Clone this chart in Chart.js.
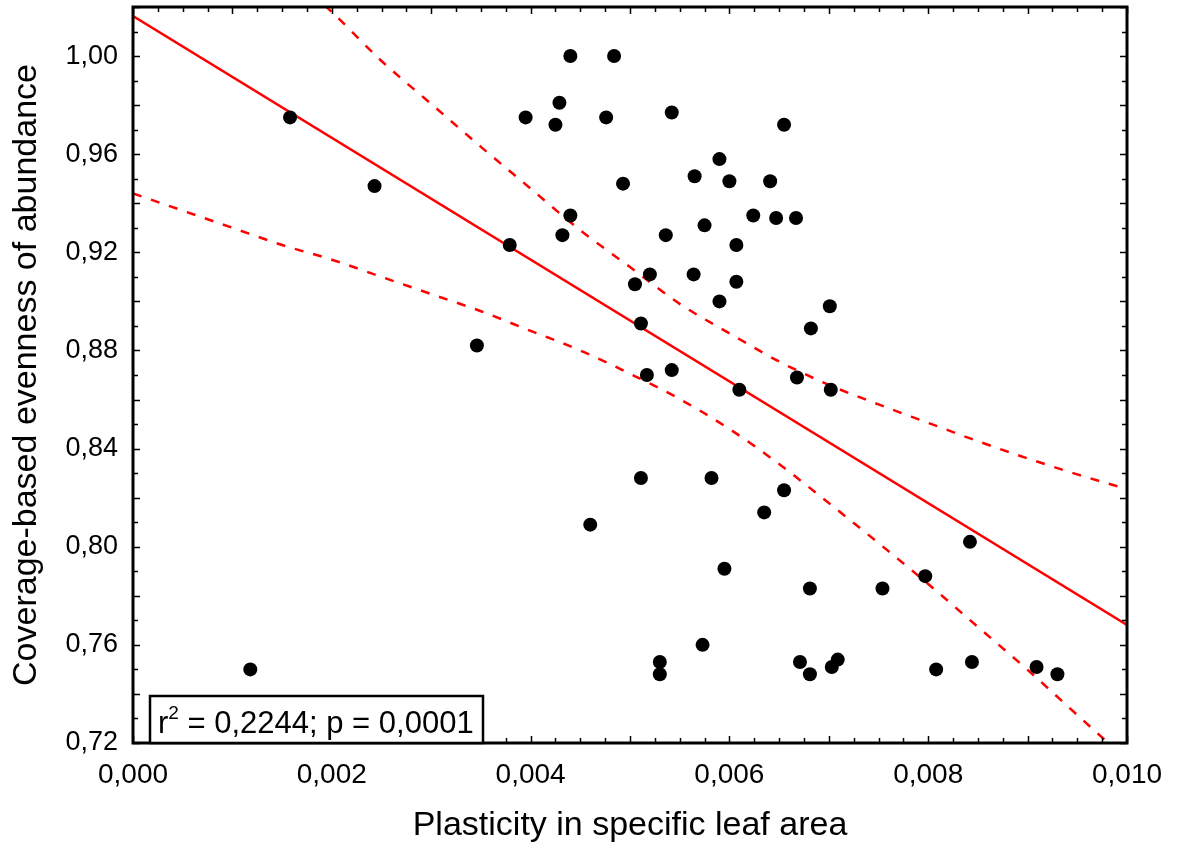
<!DOCTYPE html>
<html>
<head>
<meta charset="utf-8">
<script src="https://cdn.jsdelivr.net/npm/chart.js@4.4.1/dist/chart.umd.min.js"></script>
<style>
  html, body { margin: 0; padding: 0; background: #fff; }
</style>
</head>
<body>
<canvas id="chart" width="1177" height="849"></canvas>
<script>
// observed points
const plasticity = [
  0.00118, 0.00158, 0.00243, 0.00346, 0.00379, 0.00395, 0.00425, 0.00429, 0.00440, 0.00432,
  0.00440, 0.00460, 0.00476, 0.00484, 0.00493, 0.00505, 0.00511, 0.00511, 0.00520, 0.00517,
  0.00536, 0.00530, 0.00530, 0.00542, 0.00542, 0.00564, 0.00565, 0.00575, 0.00573, 0.00582,
  0.00590, 0.00590, 0.00595, 0.00600, 0.00607, 0.00607, 0.00610, 0.00624, 0.00635, 0.00641,
  0.00647, 0.00655, 0.00655, 0.00667, 0.00668, 0.00671, 0.00681, 0.00681, 0.00682, 0.00701,
  0.00702, 0.00703, 0.00709, 0.00754, 0.00797, 0.00808, 0.00842, 0.00844, 0.00909, 0.00930
];
const evenness = [
  0.750, 0.975, 0.947, 0.882, 0.923, 0.975, 0.972, 0.981, 1.000, 0.927,
  0.935, 0.809, 0.975, 1.000, 0.948, 0.907, 0.891, 0.828, 0.911, 0.870,
  0.927, 0.753, 0.748, 0.872, 0.977, 0.911, 0.951, 0.931, 0.760, 0.828,
  0.958, 0.900, 0.791, 0.949, 0.923, 0.908, 0.864, 0.935, 0.814, 0.949,
  0.934, 0.823, 0.972, 0.934, 0.869, 0.753, 0.783, 0.748, 0.889, 0.898,
  0.864, 0.751, 0.754, 0.783, 0.788, 0.750, 0.802, 0.753, 0.751, 0.748
];

// regression line
const fitX = [0.000, 0.010];
const fitY = [1.0163, 0.7681];

// 95% confidence bands
const bandX = [0.0000, 0.0005, 0.0010, 0.0015, 0.0020, 0.0025, 0.0030, 0.0035, 0.0040, 0.0045, 0.0050,
               0.0055, 0.0060, 0.0065, 0.0070, 0.0075, 0.0080, 0.0085, 0.0090, 0.0095, 0.0100];
const upperBand = [null, null, null, 1.036, 1.018, 0.998, 0.9805, 0.963, 0.946, 0.929, 0.914,
                   0.899, 0.887, 0.8755, 0.866, 0.858, 0.8505, 0.843, 0.836, 0.8295, 0.8235];
const lowerBand = [0.944, 0.937, 0.930, 0.923, 0.917, 0.910, 0.903, 0.896, 0.888, 0.880, 0.8705,
                   0.8602, 0.848, 0.8337, 0.8178, 0.8015, 0.7848, 0.7673, 0.7498, 0.7314, 0.7131];

const xTicks = [0.000, 0.002, 0.004, 0.006, 0.008, 0.010];
const yTicks = [0.72, 0.76, 0.80, 0.84, 0.88, 0.92, 0.96, 1.00];
const xMinorStep = 0.00025;
const yMinorStep = 0.01;

const statsLabel = ["r", "2", " = 0,2244; p = 0,0001"];

const toXY = (xs, ys) => xs.map((x, i) => ({ x: x, y: ys[i] }));

// frame, inward ticks and the stats box
const framePlugin = {
  id: "frame",
  afterDatasetsDraw(chart) {
    const { ctx, chartArea: a, scales } = chart;
    const xs = scales.x, ys = scales.y;
    ctx.save();
    ctx.strokeStyle = "#000";
    ctx.lineWidth = 1.5;
    ctx.beginPath();
    for (let v = xs.min; v <= xs.max + 1e-9; v += xMinorStep) {
      const px = Math.round(xs.getPixelForValue(v)) + 0.5;
      const major = Math.abs(v / 0.001 - Math.round(v / 0.001)) < 1e-6;
      const len = major ? 7 : 5;
      ctx.moveTo(px, a.bottom); ctx.lineTo(px, a.bottom - len);
      ctx.moveTo(px, a.top); ctx.lineTo(px, a.top + len);
    }
    for (let v = ys.min; v <= ys.max + 1e-9; v += yMinorStep) {
      const py = Math.round(ys.getPixelForValue(v)) + 0.5;
      const major = Math.abs((v - 0.72) / 0.02 - Math.round((v - 0.72) / 0.02)) < 1e-6;
      const len = major ? 7 : 5;
      ctx.moveTo(a.left, py); ctx.lineTo(a.left + len, py);
      ctx.moveTo(a.right, py); ctx.lineTo(a.right - len, py);
    }
    ctx.stroke();
    ctx.lineWidth = 3;
    ctx.strokeRect(a.left, a.top, a.right - a.left, a.bottom - a.top);

    // stats box
    const bx = a.left + 17, bw = 333, bh = 47, by = a.bottom - bh;
    ctx.fillStyle = "#fff";
    ctx.fillRect(bx, by, bw, bh);
    ctx.lineWidth = 2.5;
    ctx.strokeRect(bx, by, bw, bh);
    ctx.fillStyle = "#000";
    ctx.textBaseline = "alphabetic";
    ctx.textAlign = "left";
    let tx = bx + 8;
    const base = a.bottom - 10;
    ctx.font = "31px Arial, 'Liberation Sans', sans-serif";
    ctx.fillText(statsLabel[0], tx, base);
    tx += ctx.measureText(statsLabel[0]).width;
    ctx.font = "19px Arial, 'Liberation Sans', sans-serif";
    ctx.fillText(statsLabel[1], tx, base - 14);
    tx += ctx.measureText(statsLabel[1]).width;
    ctx.font = "31px Arial, 'Liberation Sans', sans-serif";
    ctx.fillText(statsLabel[2], tx, base);
    ctx.restore();
  }
};

new Chart(document.getElementById("chart").getContext("2d"), {
  type: "scatter",
  data: {
    datasets: [
      {
        label: "observations",
        data: toXY(plasticity, evenness),
        backgroundColor: "#000",
        borderWidth: 0,
        pointRadius: 7,
        pointHoverRadius: 7,
        order: 1
      },
      {
        type: "line",
        label: "fit",
        data: toXY(fitX, fitY),
        borderColor: "#ff0000",
        borderWidth: 2.5,
        pointRadius: 0,
        fill: false,
        order: 2
      },
      {
        type: "line",
        label: "upper 95%",
        data: toXY(bandX, upperBand),
        borderColor: "#ff0000",
        borderWidth: 2.5,
        borderDash: [9, 10],
        pointRadius: 0,
        cubicInterpolationMode: "monotone",
        fill: false,
        order: 3
      },
      {
        type: "line",
        label: "lower 95%",
        data: toXY(bandX, lowerBand),
        borderColor: "#ff0000",
        borderWidth: 2.5,
        borderDash: [9, 10],
        pointRadius: 0,
        cubicInterpolationMode: "monotone",
        fill: false,
        order: 3
      }
    ]
  },
  options: {
    responsive: false,
    animation: false,
    devicePixelRatio: 1,
    layout: { padding: { left: 0, right: 50, top: 7, bottom: 3 } },
    plugins: {
      legend: { display: false },
      tooltip: { enabled: false }
    },
    scales: {
      x: {
        type: "linear",
        min: 0,
        max: 0.010,
        afterBuildTicks: (s) => { s.ticks = xTicks.map(v => ({ value: v })); },
        afterFit: (s) => { s.height = 103; s.paddingLeft = 0; s.paddingRight = 0; },
        grid: { display: false, drawTicks: false },
        border: { display: false },
        ticks: {
          color: "#000",
          padding: 15,
          maxRotation: 0,
          font: { family: "Arial, 'Liberation Sans', sans-serif", size: 28 },
          callback: (v) => Number(v).toFixed(3).replace(".", ",")
        },
        title: {
          display: true,
          text: "Plasticity in specific leaf area",
          color: "#000",
          padding: { top: 0, bottom: 0 },
          font: { family: "Arial, 'Liberation Sans', sans-serif", size: 34 }
        }
      },
      y: {
        type: "linear",
        min: 0.72,
        max: 1.02,
        afterBuildTicks: (s) => { s.ticks = yTicks.map(v => ({ value: v })); },
        afterFit: (s) => { s.width = 133; s.paddingTop = 0; s.paddingBottom = 0; },
        grid: { display: false, drawTicks: false },
        border: { display: false },
        ticks: {
          color: "#000",
          padding: 15,
          font: { family: "Arial, 'Liberation Sans', sans-serif", size: 27 },
          callback: (v) => Number(v).toFixed(2).replace(".", ",")
        },
        title: {
          display: true,
          text: "Coverage-based evenness of abundance",
          color: "#000",
          padding: { top: 6, bottom: 0 },
          font: { family: "Arial, 'Liberation Sans', sans-serif", size: 34 }
        }
      }
    }
  },
  plugins: [framePlugin]
});
</script>
</body>
</html>
